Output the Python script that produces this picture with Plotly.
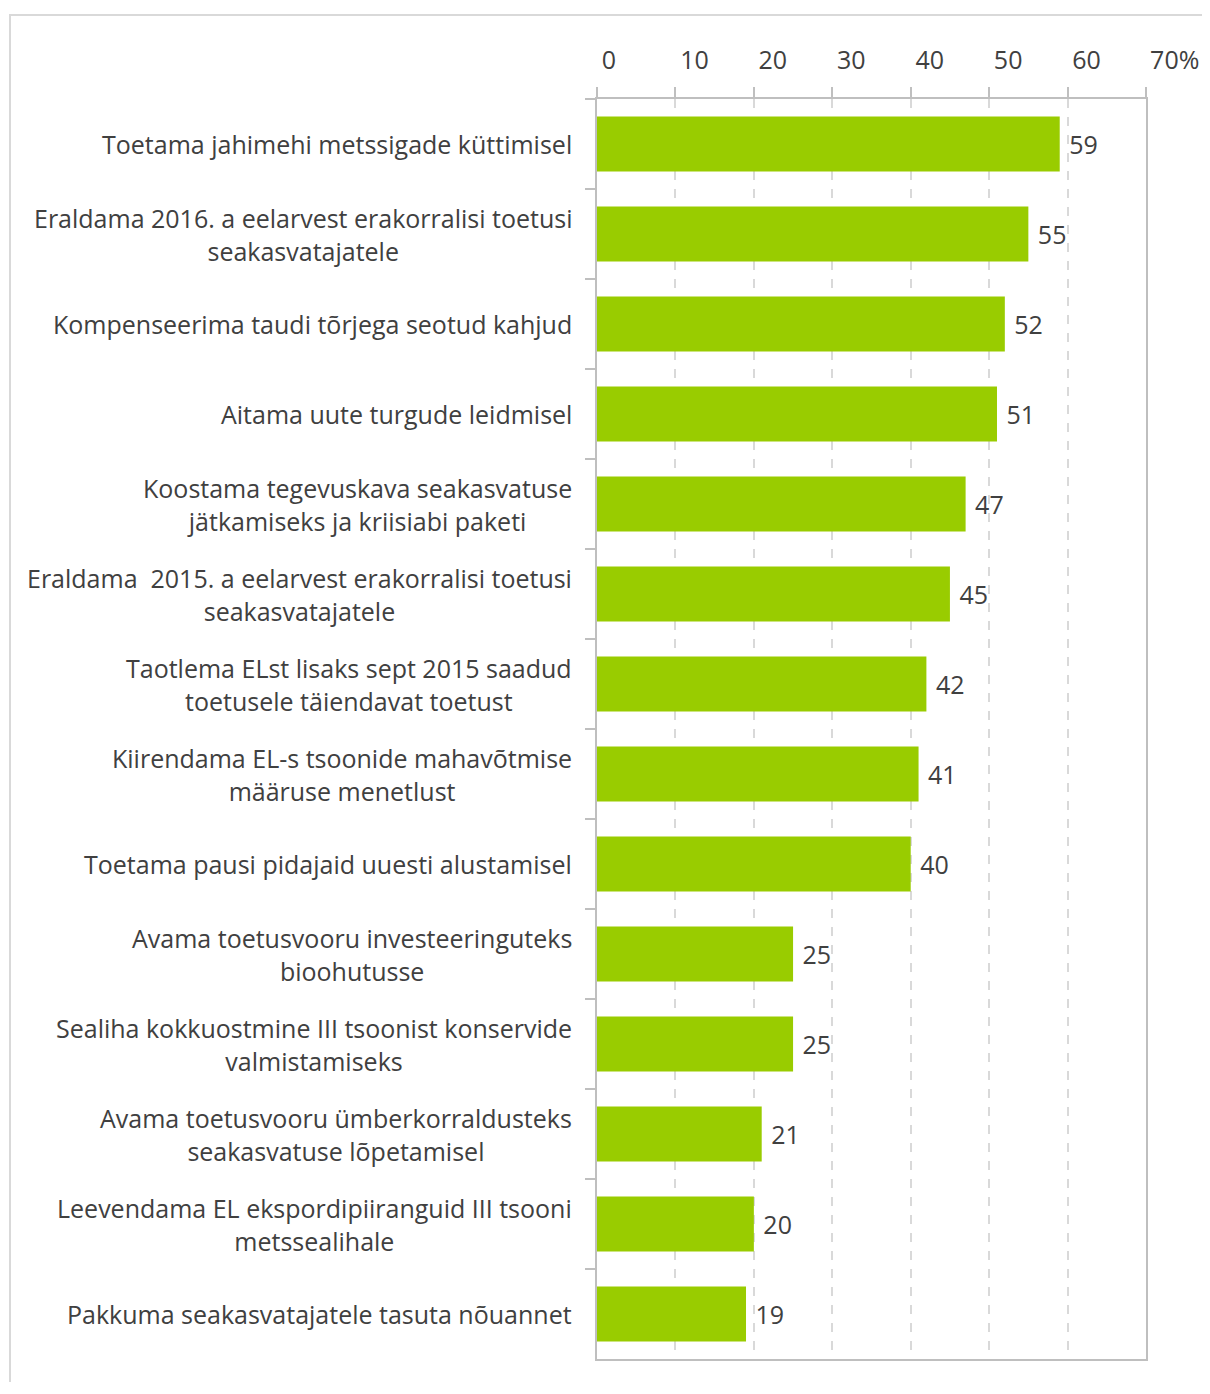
import plotly.graph_objects as go

# survey answers, top to bottom
labels = [
    "Toetama jahimehi metssigade küttimisel",
    "Eraldama 2016. a eelarvest erakorralisi toetusi<br>seakasvatajatele",
    "Kompenseerima taudi tõrjega seotud kahjud",
    "Aitama uute turgude leidmisel",
    "Koostama tegevuskava seakasvatuse<br>jätkamiseks ja kriisiabi paketi",
    "Eraldama  2015. a eelarvest erakorralisi toetusi<br>seakasvatajatele",
    "Taotlema ELst lisaks sept 2015 saadud<br>toetusele täiendavat toetust",
    "Kiirendama EL-s tsoonide mahavõtmise<br>määruse menetlust",
    "Toetama pausi pidajaid uuesti alustamisel",
    "Avama toetusvooru investeeringuteks<br>bioohutusse",
    "Sealiha kokkuostmine III tsoonist konservide<br>valmistamiseks",
    "Avama toetusvooru ümberkorraldusteks<br>seakasvatuse lõpetamisel",
    "Leevendama EL ekspordipiiranguid III tsooni<br>metssealihale",
    "Pakkuma seakasvatajatele tasuta nõuannet",
]
percent = [59, 55, 52, 51, 47, 45, 42, 41, 40, 25, 25, 21, 20, 19]

tick_vals = [0, 10, 20, 30, 40, 50, 60, 70]
tick_text = ["0\u2007", "10", "20", "30", "40", "50", "60", "\u00a0\u00a0\u00a070%"]

FONT = "Open Sans"
FS = 25
TXT = "#404040"
BAR = "#99cc00"
AXIS = "#bfbfbf"
GRID = "#d9d9d9"

# page body has an 8px margin, so the figure is a bit smaller than the window
W, H = 1194, 1374
L, R, T, B = 589, 56, 91, 23

fig = go.Figure(go.Bar(
    x=percent,
    y=labels,
    orientation="h",
    marker=dict(color=BAR, line=dict(width=0)),
    texttemplate="\u00a0%{x}",
    textposition="outside",
    textfont=dict(family=FONT, size=FS, color=TXT),
    cliponaxis=False,
))

# category labels, lines centred on each other like the original
annotations = [
    dict(x=0, xref="paper", y=lab, yref="y",
         text=lab, showarrow=False, align="center",
         xanchor="right", yanchor="middle", xshift=-23,
         font=dict(family=FONT, size=FS, color=TXT))
    for lab in labels
]

# outer chart frame (top and left edge visible)
pw = W - L - R
ph = H - T - B
fig.add_shape(type="rect", xref="paper", yref="paper",
              x0=(2 - L) / pw, x1=(W + 20 - L) / pw,
              y0=-(H + 20 - T - ph) / ph, y1=1 + (T - 7) / ph,
              line=dict(color=GRID, width=2), layer="below")

fig.update_layout(
    width=W, height=H, autosize=False,
    margin=dict(l=L, r=R, t=T, b=B),
    paper_bgcolor="white", plot_bgcolor="white",
    bargap=0.39,
    showlegend=False,
    annotations=annotations,
    font=dict(family=FONT, size=FS, color=TXT),
)
fig.update_xaxes(
    side="top", range=[0, 70], automargin=False,
    tickvals=tick_vals, ticktext=tick_text,
    ticklabelshift=19, ticklabeloverflow="allow",
    tickfont=dict(family=FONT, size=FS, color=TXT),
    showgrid=True, gridcolor=GRID, griddash="dash", gridwidth=1.5,
    zeroline=False,
    showline=True, linecolor=AXIS, linewidth=2, mirror=True,
    ticks="outside", ticklen=10, tickcolor=AXIS, tickwidth=1.5,
    ticklabelstandoff=8,
)
fig.update_yaxes(
    autorange="reversed", automargin=False,
    showticklabels=False,
    tickson="boundaries",
    ticks="outside", ticklen=10, tickcolor=AXIS, tickwidth=1.5,
    showline=True, linecolor=AXIS, linewidth=2, mirror=True,
    showgrid=False, zeroline=False,
)

fig.write_html("out.html")
